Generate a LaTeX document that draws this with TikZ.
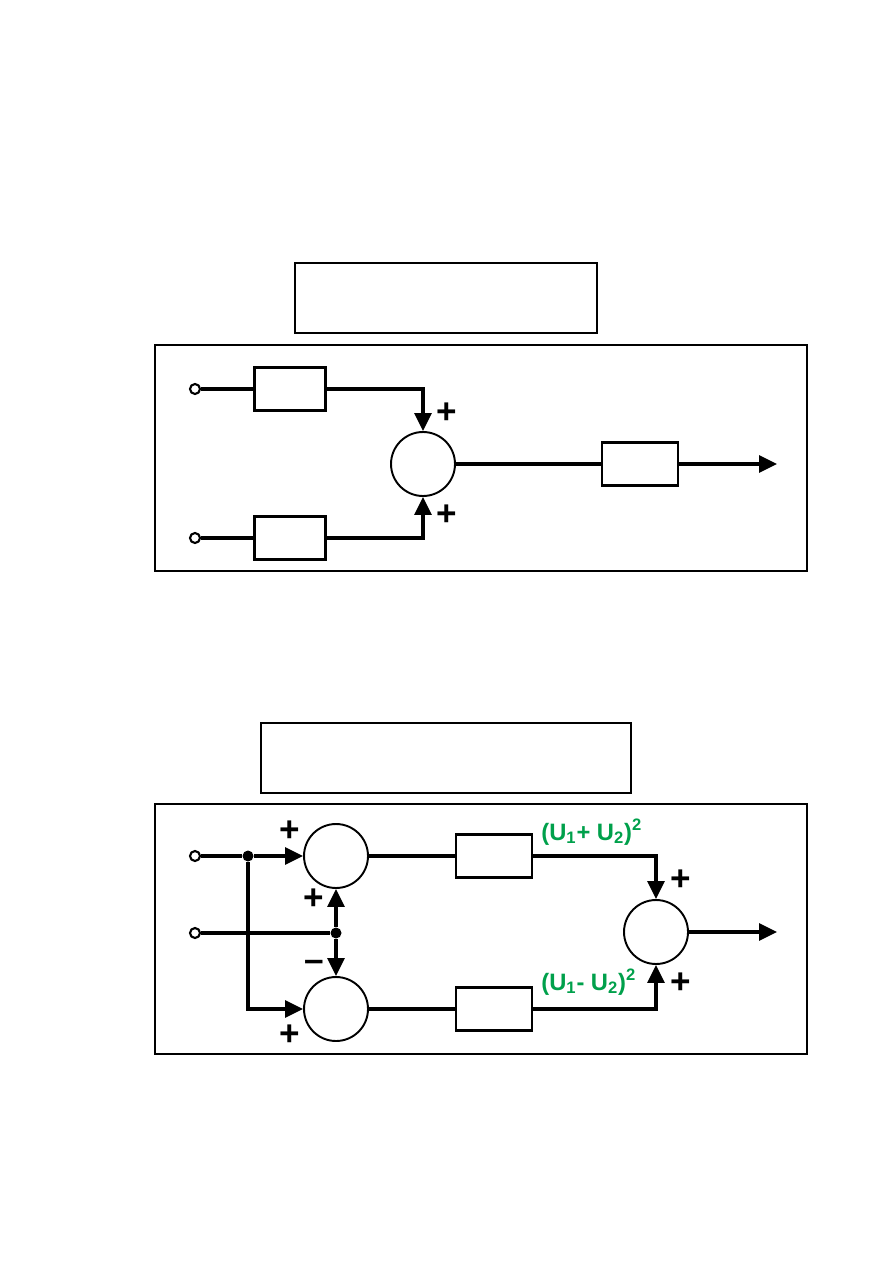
\documentclass[tikz,border=0pt]{standalone}
\usepackage{fontspec}
\setmainfont{Liberation Sans}
\usetikzlibrary{arrows.meta,positioning}
\definecolor{SigGreen}{HTML}{00A04B}

\begin{document}
\begin{tikzpicture}[x=0.02cm,y=-0.02cm,font=\bfseries,
  blk/.style={draw,line width=1.4pt,minimum width=1.42cm,minimum height=0.86cm,inner sep=0pt},
  wblk/.style={blk,minimum width=1.52cm},
  sum/.style={draw,circle,line width=1.1pt,minimum size=1.28cm,inner sep=0pt},
  term/.style={draw,circle,line width=1.2pt,minimum size=0.2cm,inner sep=0pt,fill=white},
  jn/.style={circle,fill,minimum size=0.22cm,inner sep=0pt},
  frm/.style={draw,line width=0.9pt},
  sgn/.style={font=\fontsize{20}{20}\selectfont\bfseries,inner sep=0pt},
  lbl/.style={font=\fontsize{13.5}{13.5}\selectfont\bfseries,text=SigGreen,inner sep=0pt,anchor=base west},
  sig/.style={line width=1.8pt},
  arr/.style={sig,-{Triangle[length=0.36cm,width=0.34cm]}}]
  \useasboundingbox (0,0) rectangle (893,1263);

  % upper scheme
  \draw[frm] (295,263) rectangle (597,333);
  \draw[frm] (155,345) rectangle (807,571);
  \node[term] (in1) at (195,389) {};
  \node[term] (in2) at (195,538) {};
  \node[blk] (a) at (290,389) {};
  \node[blk] (b) at (290,538) {};
  \node[sum] (s) at (423,464) {};
  \node[wblk,right=2.9cm of s] (c) {};
  \coordinate (out) at (777,464);
  \draw[sig] (in1) -- (a);
  \draw[sig] (in2) -- (b);
  \draw[arr] (a) -| (s);
  \draw[arr] (b) -| (s);
  \draw[sig] (s) -- (c);
  \draw[arr] (c) -- (out);
  \node[sgn] (p1) at (447,413) {+};
  \node[sgn] (p2) at (447,515) {+};

  % lower scheme
  \draw[frm] (261,723) rectangle (631,793);
  \draw[frm] (155,804) rectangle (807,1054);
  \node[term] (in3) at (195,856) {};
  \node[term] (in4) at (195,933) {};
  \node[jn] (j1) at (248,856) {};
  \node[sum] (s1) at (336,856) {};
  \node[sum] (s2) at (336,1009) {};
  \node[jn] (j2) at (336,933) {};
  \node[wblk] (d) at (494,856) {};
  \node[wblk] (e) at (494,1009) {};
  \node[sum] (s3) at (656,932) {};
  \coordinate (out2) at (777,932);
  \draw[sig] (in3) -- (j1);
  \draw[arr] (j1) -- (s1);
  \draw[arr] (j1) |- (s2);
  \draw[sig] (in4) -- (j2);
  \draw[arr] (j2) -- (s1);
  \draw[arr] (j2) -- (s2);
  \draw[sig] (s1) -- (d);
  \draw[sig] (s2) -- (e);
  \draw[arr] (d) -| (s3);
  \draw[arr] (e) -| (s3);
  \draw[arr] (s3) -- (out2);
  \node[sgn] (p3) at (290,831) {+};
  \node[sgn] (p4) at (314,899) {+};
  \node[sgn] (m1) at (314,966) {–};
  \node[sgn] (p5) at (290,1035) {+};
  \node[sgn] (p6) at (681,880) {+};
  \node[sgn] (p7) at (681,983) {+};
  \node[lbl] (sq1) at (541,840) {(U\textsubscript{1}+ U\textsubscript{2})\textsuperscript{2}};
  \node[lbl] (sq2) at (541,990) {(U\textsubscript{1}- U\textsubscript{2})\textsuperscript{2}};
\end{tikzpicture}
\end{document}
